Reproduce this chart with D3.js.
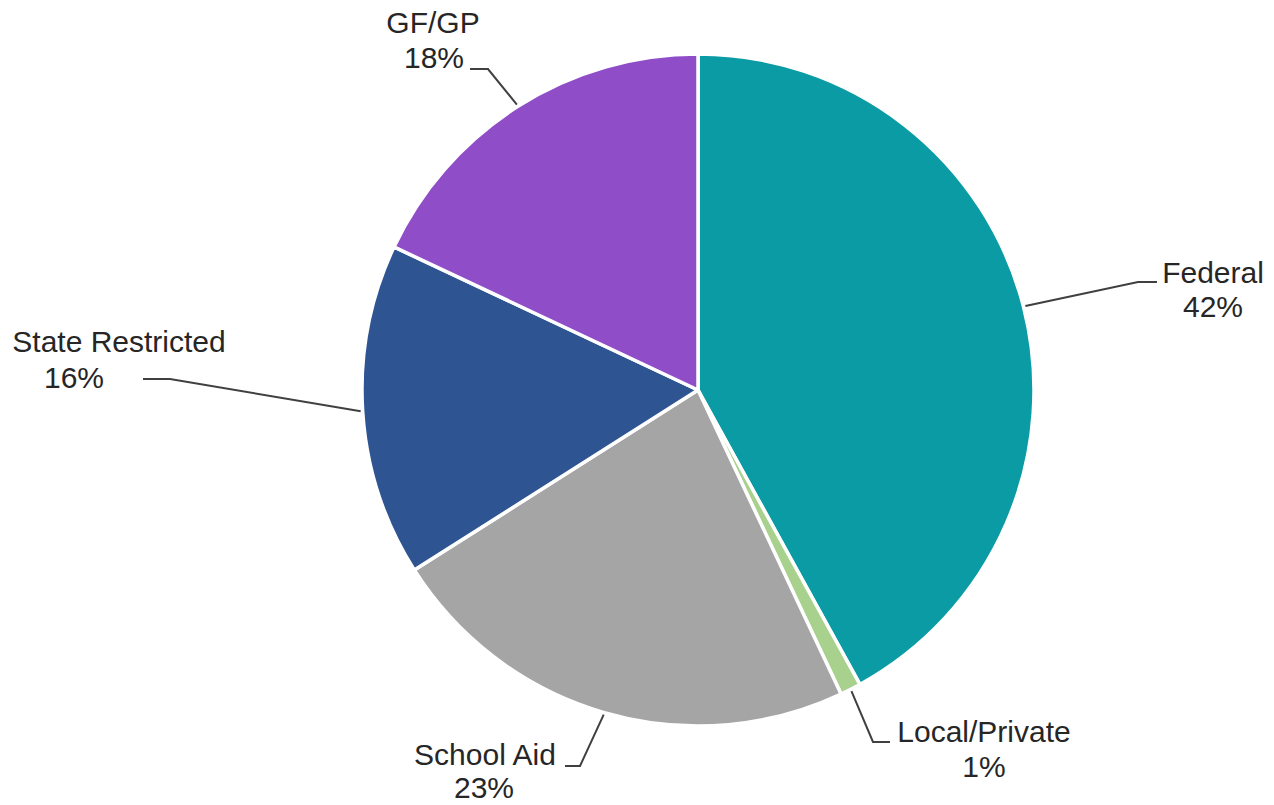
<!DOCTYPE html>
<html>
<head>
<meta charset="utf-8">
<script src="https://cdn.jsdelivr.net/npm/d3@7/dist/d3.min.js"></script>
<style>
  html, body { margin: 0; padding: 0; background: #ffffff; }
  svg text { font-family: "Liberation Sans", Arial, sans-serif; fill: #262626; }
</style>
</head>
<body>
<svg id="chart" width="1274" height="805"></svg>
<script>
// Funding sources, clockwise from 12 o'clock
const categories = ["Federal", "Local/Private", "School Aid", "State Restricted", "GF/GP"];
const shares = [42, 1, 23, 16, 18];
const shareLabels = ["42%", "1%", "23%", "16%", "18%"];
const colors = ["#0b9ba5", "#a9d18e", "#a5a5a5", "#2e5492", "#8f4dc7"];

// Label placement: elbow of the leader, end of its short horizontal run,
// and the centre of each text line with its baselines.
const labelLayout = {
  "Federal":          { elbow: [1138, 282], tail: [1157, 282], lines: [[1213, 283], [1213, 317]] },
  "Local/Private":    { elbow: [873, 742],  tail: [890, 742],  lines: [[984, 742], [984, 777]] },
  "School Aid":       { elbow: [580, 766],  tail: [565, 766],  lines: [[485, 765], [484, 798]] },
  "State Restricted": { elbow: [170, 379],  tail: [143, 379],  lines: [[119, 352], [74, 388]] },
  "GF/GP":            { elbow: [488, 69],   tail: [470, 69],   lines: [[433, 33], [434, 68]] }
};

const width = 1274, height = 805;
const cx = 698, cy = 390, radius = 336;
const fontSize = 30;

const svg = d3.select("#chart");
const g = svg.append("g").attr("transform", `translate(${cx},${cy})`);

const data = categories.map((c, i) => ({ name: c, value: shares[i], label: shareLabels[i], color: colors[i] }));

const pie = d3.pie().value(d => d.value).sort(null);
const arc = d3.arc().innerRadius(0).outerRadius(radius);
const arcs = pie(data);

g.selectAll("path.slice")
  .data(arcs)
  .join("path")
  .attr("class", "slice")
  .attr("d", arc)
  .attr("fill", d => d.data.color)
  .attr("stroke", "#ffffff")
  .attr("stroke-width", 3.5)
  .attr("stroke-linejoin", "round");

// Leader lines start on the rim at each slice's mid-angle
const rimPoint = d => {
  const a = (d.startAngle + d.endAngle) / 2;
  return [cx + (radius + 2) * Math.sin(a), cy - (radius + 2) * Math.cos(a)];
};

const line = d3.line();
svg.selectAll("path.leader")
  .data(arcs)
  .join("path")
  .attr("class", "leader")
  .attr("d", d => {
    const L = labelLayout[d.data.name];
    return line([rimPoint(d), L.elbow, L.tail]);
  })
  .attr("fill", "none")
  .attr("stroke", "#404040")
  .attr("stroke-width", 2);

const labels = svg.selectAll("g.label")
  .data(arcs)
  .join("g")
  .attr("class", "label");

labels.append("text")
  .attr("x", d => labelLayout[d.data.name].lines[0][0])
  .attr("y", d => labelLayout[d.data.name].lines[0][1])
  .attr("text-anchor", "middle")
  .attr("font-size", fontSize)
  .text(d => d.data.name);

labels.append("text")
  .attr("x", d => labelLayout[d.data.name].lines[1][0])
  .attr("y", d => labelLayout[d.data.name].lines[1][1])
  .attr("text-anchor", "middle")
  .attr("font-size", fontSize)
  .text(d => d.data.label);
</script>
</body>
</html>
